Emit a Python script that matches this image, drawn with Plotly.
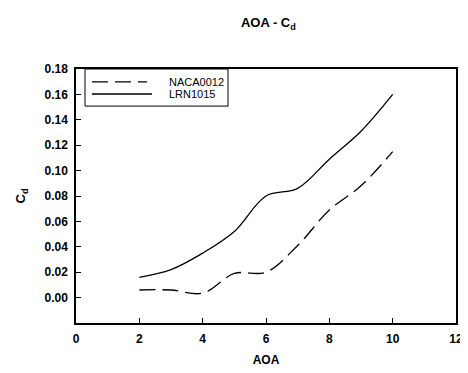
import plotly.graph_objects as go

aoa = [2, 3, 4, 5, 6, 7, 8, 9, 10]
naca0012 = [0.006, 0.006, 0.0035, 0.019, 0.020, 0.041, 0.069, 0.088, 0.115]
lrn1015 = [0.016, 0.022, 0.035, 0.052, 0.080, 0.086, 0.109, 0.131, 0.160]
series_names = ["NACA0012", "LRN1015"]

x_ticks = [0, 2, 4, 6, 8, 10, 12]
y_ticks = [0.00, 0.02, 0.04, 0.06, 0.08, 0.10, 0.12, 0.14, 0.16, 0.18]

DASH = "16px,7px"
fig = go.Figure()
fig.add_trace(go.Scatter(x=aoa, y=naca0012, mode="lines", name=series_names[0],
                         line=dict(color="black", width=1.3, dash=DASH, shape="spline")))
fig.add_trace(go.Scatter(x=aoa, y=lrn1015, mode="lines", name=series_names[1],
                         line=dict(color="black", width=1.3, shape="spline")))

font = "Liberation Sans, Arial, sans-serif"

# legend drawn as a framed box in plot-area (paper) coordinates
fig.add_shape(type="rect", xref="paper", yref="paper", x0=0.0237, x1=0.40, y0=0.854, y1=1.0,
              line=dict(color="black", width=1), fillcolor="white", layer="above")
fig.add_shape(type="line", xref="paper", yref="paper", x0=0.042, x1=0.187, y0=0.949, y1=0.949,
              line=dict(color="black", width=1.3, dash=DASH), layer="above")
fig.add_shape(type="line", xref="paper", yref="paper", x0=0.042, x1=0.200, y0=0.9016, y1=0.9016,
              line=dict(color="black", width=1.3), layer="above")
for name, yy in zip(series_names, [0.949, 0.9016]):
    fig.add_annotation(text=name, xref="paper", yref="paper", x=0.2395, y=yy,
                       xanchor="left", yanchor="middle", showarrow=False,
                       font=dict(size=11, family=font, color="black"))

fig.update_layout(
    width=460, height=365,
    margin=dict(l=68, r=12, t=61, b=50),
    paper_bgcolor="white", plot_bgcolor="white",
    font=dict(family=font, color="black"),
    title=dict(text="AOA - C<sub>d</sub>", x=0.566, xanchor="center", y=0.96, yanchor="middle",
               font=dict(size=13, family=font, weight="bold")),
    showlegend=False,
    xaxis=dict(range=[0, 12], tickvals=x_ticks, ticktext=[str(v) for v in x_ticks],
               ticks="inside", ticklen=5, tickcolor="black", showline=True, linecolor="black",
               linewidth=1.5, mirror=True, showgrid=False, zeroline=False, automargin=False,
               ticklabelstandoff=4,
               tickfont=dict(size=12, family=font, weight="bold"),
               title=dict(text="AOA", font=dict(size=12, family=font, weight="bold"), standoff=10)),
    yaxis=dict(range=[-0.02, 0.18], tickvals=y_ticks, ticktext=[f"{v:.2f}" for v in y_ticks],
               ticks="inside", ticklen=5, tickcolor="black", showline=True, linecolor="black",
               linewidth=1.5, mirror=True, showgrid=False, zeroline=False, automargin=False,
               ticklabelstandoff=4,
               tickfont=dict(size=12, family=font, weight="bold"),
               title=dict(text="C<sub>d</sub>", font=dict(size=13, family=font, weight="bold"), standoff=16)),
)
fig.write_html("out.html")
